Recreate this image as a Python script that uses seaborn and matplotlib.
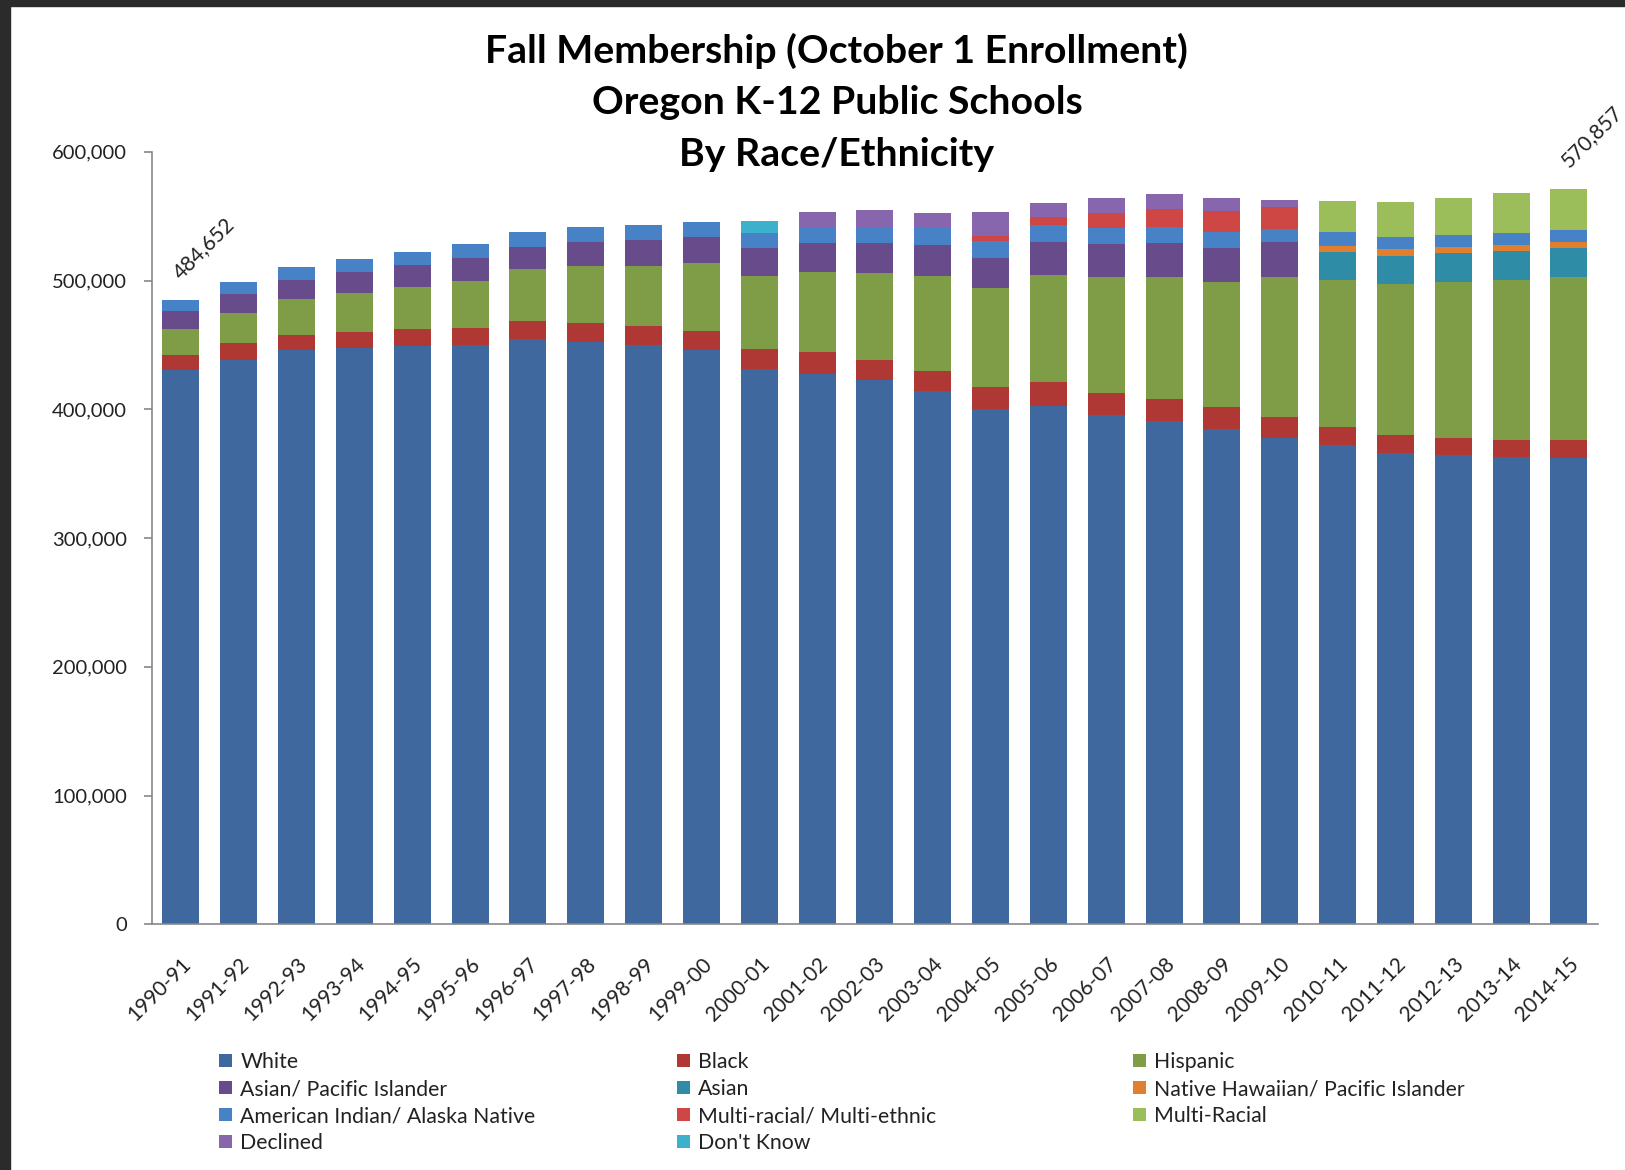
import numpy as np
import matplotlib
matplotlib.use("Agg")
import matplotlib.pyplot as plt
import seaborn as sns
from matplotlib.patches import Patch, Rectangle
from matplotlib.ticker import FuncFormatter

# school years on the x axis
years = ['1990-91', '1991-92', '1992-93', '1993-94', '1994-95', '1995-96', '1996-97',
         '1997-98', '1998-99', '1999-00', '2000-01', '2001-02', '2002-03', '2003-04',
         '2004-05', '2005-06', '2006-07', '2007-08', '2008-09', '2009-10', '2010-11',
         '2011-12', '2012-13', '2013-14', '2014-15']

# enrollment by race / ethnicity
white = [430300, 438600, 445900, 447300, 449100, 449600, 454900, 452500, 449600, 445900,
         431600, 427700, 422400, 413800, 400000, 402800, 395500, 391100, 384300, 378000,
         372000, 366000, 364200, 362900, 362400]
black = [11500, 13100, 12100, 12700, 13000, 13900, 13800, 14300, 15100, 14900,
         15400, 16700, 16200, 16200, 17200, 18000, 17000, 16700, 17300, 16200,
         14400, 13900, 13800, 13600, 13500]
hispanic = [20800, 23300, 27900, 30600, 33200, 36100, 40600, 44100, 46600, 52600,
            56300, 62100, 67300, 73200, 76800, 83300, 90000, 94600, 96900, 108600,
            113800, 117100, 120800, 123600, 127200]
asian_pi = [14000, 14400, 14600, 16200, 16700, 18000, 16900, 19300, 20100, 20600,
            21800, 23000, 22900, 24100, 23500, 25700, 25900, 26700, 27100, 27000,
            0, 0, 0, 0, 0]
asian = [0] * 20 + [22200, 22200, 22300, 22800, 22400]
nh_pi = [0] * 20 + [4500, 5000, 4700, 4700, 4400]
am_indian = [8000, 9200, 9700, 9900, 9900, 10500, 11800, 11200, 11700, 11300,
             11700, 11000, 12300, 13100, 13100, 13100, 12500, 12200, 11800, 10400,
             10400, 9900, 9600, 9100, 9100]
multi_ethnic = [0] * 14 + [3900, 6800, 11300, 14400, 16500, 17000] + [0] * 5
multi_racial = [0] * 20 + [24300, 26700, 28800, 30900, 32000]
declined = [0] * 11 + [12500, 13800, 12000, 18800, 10400, 11500, 11300, 10500, 5200] + [0] * 5
dont_know = [0] * 10 + [9100] + [0] * 14

# printed totals for the first and last year
total_labels = {0: '484,652', 24: '570,857'}

names = ['White', 'Black', 'Hispanic', 'Asian/ Pacific Islander', 'Asian',
         'Native Hawaiian/ Pacific Islander', 'American Indian/ Alaska Native',
         'Multi-racial/ Multi-ethnic', 'Multi-Racial', 'Declined', "Don't Know"]
values = [white, black, hispanic, asian_pi, asian, nh_pi, am_indian,
          multi_ethnic, multi_racial, declined, dont_know]
colors = ['#3F689F', '#AF3835', '#7F9C47', '#684B8B', '#2E8CA6', '#E0802F',
          '#4781C6', '#CE4744', '#9CBE5A', '#8866AE', '#3DB0CB']

sns.set_style('white')
plt.rcParams['font.family'] = ['Lato', 'DejaVu Sans']

fig = plt.figure(figsize=(16.25, 11.7), dpi=100)
ax = fig.add_axes([0.0935, 0.2100, 0.8898, 0.6603])

bottom = np.zeros(len(years))
for name, vals, col in zip(names, values, colors):
    vals = np.array(vals, dtype=float)
    sns.barplot(x=years, y=vals, color=col, saturation=1, width=0.64,
                bottom=bottom, linewidth=0, errorbar=None, ax=ax)
    bottom = bottom + vals

# total labels above first and last bars
for i, txt in total_labels.items():
    ax.annotate(txt, xy=(i, bottom[i]), xytext=(2, 13), textcoords='offset points',
                rotation=45, rotation_mode='anchor', ha='left', va='bottom',
                fontsize=15, color='#222222', annotation_clip=False)

ax.set_xlim(-0.5, len(years) - 0.5)
ax.set_ylim(0, 600000)
ax.set_yticks(np.arange(0, 600001, 100000))
ax.yaxis.set_major_formatter(FuncFormatter(lambda v, p: f'{v:,.0f}'))
ax.set_xlabel('')
ax.set_ylabel('')

ax.set_xticks(np.arange(-0.5, len(years), 1), minor=True)
ax.tick_params(axis='x', which='major', length=0, pad=21, labelsize=15, labelcolor='#222222')
ax.tick_params(axis='x', which='minor', length=6, width=1.2, color='#888888', direction='out')
ax.tick_params(axis='y', length=6, width=1.2, color='#888888', direction='out', pad=12,
               labelsize=14.5, labelcolor='#222222', left=True)
for lab in ax.get_xticklabels():
    lab.set_rotation(45)
    lab.set_ha('right')
    lab.set_va('top')
    lab.set_rotation_mode('anchor')

sns.despine(ax=ax)
for side in ['left', 'bottom']:
    ax.spines[side].set_color('#888888')
    ax.spines[side].set_linewidth(1.2)

# title
title_lines = ['Fall Membership (October 1 Enrollment)', 'Oregon K-12 Public Schools',
               'By Race/Ethnicity']
for k, line in enumerate(title_lines):
    fig.text(0.515, 1 - (50.5 + 51.8 * k) / 1170, line, ha='center', va='center',
             fontsize=28.3, fontweight='bold', color='black')

# legend laid out in three fixed columns like the original
handles = [Patch(facecolor=c, edgecolor='none') for c in colors]
columns = [[0, 3, 6, 9], [1, 4, 7, 10], [2, 5, 8]]
col_x = [219, 677, 1133]
for idx, x0 in zip(columns, col_x):
    fig.legend([handles[i] for i in idx], [names[i] for i in idx],
               loc='upper left', bbox_to_anchor=(x0 / 1625, 1 - 1052 / 1170),
               frameon=False, borderpad=0, borderaxespad=0, fontsize=15.3,
               handlelength=0.6, handleheight=0.6, handletextpad=0.4,
               labelspacing=0.33, labelcolor='#222222')

# dark frame of the original screenshot
fig.add_artist(Rectangle((0, 0), 10 / 1625, 1, transform=fig.transFigure,
                         color='#2b2b2b', zorder=10))
fig.add_artist(Rectangle((0, 1 - 6 / 1170), 1, 6 / 1170, transform=fig.transFigure,
                         color='#2b2b2b', zorder=10))

fig.savefig('out.png', dpi=100)
